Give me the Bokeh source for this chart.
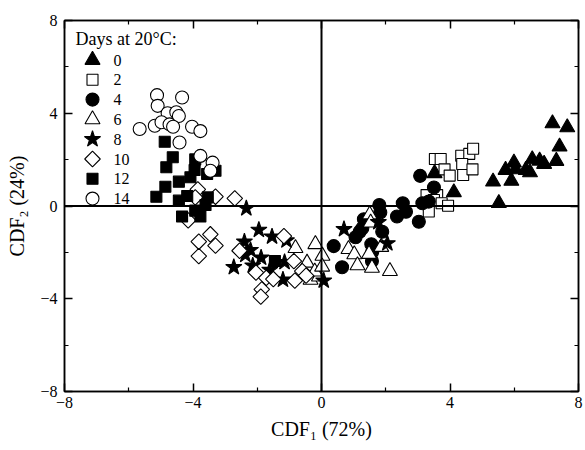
import math
from bokeh.plotting import figure
from bokeh.models import Span, Label, LinearAxis, FixedTicker, Range1d
from bokeh.embed import file_html
from bokeh.resources import INLINE

legend_title = "Days at 20°C:"
day_labels = ["0", "2", "4", "6", "8", "10", "12", "14"]
x_ticks = [-8, -4, 0, 4, 8]
minor_ticks = [-6, -2, 2, 6]

d0_x = [7.19, 7.65, 7.41, 7.31, 6.56, 6.79, 6.93, 5.99, 5.73, 6.04, 6.36, 6.49, 5.34, 5.91, 5.52, 4.12, 3.52]
d0_y = [3.56, 3.39, 2.56, 1.94, 2.01, 1.95, 1.81, 1.87, 1.55, 1.58, 1.55, 1.45, 1.05, 1.08, 0.12, 0.59, 1.41]

d2_x = [3.53, 3.71, 3.83, 3.99, 4.35, 4.60, 4.72, 4.38, 4.41, 4.70, 3.27, 3.60, 3.50, 3.74, 3.94, 3.34]
d2_y = [2.03, 2.03, 1.58, 1.31, 2.17, 2.25, 2.47, 1.81, 1.34, 1.58, 0.47, 0.47, 0.26, 0.12, 0.01, -0.24]

d4_x = [3.07, 3.50, 1.80, 1.83, 2.53, 2.63, 2.35, 3.03, 3.14, 3.34, 1.32, 1.58, 1.27, 1.89, 1.19, 1.06, 1.55, 1.58, 0.38, 0.64, 1.57]
d4_y = [1.30, 0.80, 0.04, -0.28, 0.12, -0.25, -0.45, -0.68, 0.12, 0.19, -0.57, -0.60, -0.96, -1.11, -1.11, -1.35, -1.65, -1.97, -1.73, -2.64, -2.37]

d6_x = [1.50, 1.53, -0.19, 0.84, 1.02, 1.48, 1.86, 1.12, 1.57, 2.13, 0.03, -0.81, -0.45, -0.34, -0.08, -0.21, 0.02]
d6_y = [-0.37, -0.72, -1.65, -1.86, -2.09, -2.07, -1.77, -2.56, -2.67, -2.81, -2.15, -1.82, -2.45, -3.19, -3.05, -2.83, -2.62]

d8_x = [-2.34, -1.95, -1.54, -1.09, -2.40, -2.21, -2.37, -1.88, -2.73, -2.14, -1.61, -1.15, -1.20, 0.07, 0.70, 1.77, 2.05]
d8_y = [-0.10, -1.03, -1.32, -1.49, -1.54, -1.90, -2.11, -2.23, -2.64, -2.57, -2.76, -2.42, -3.18, -3.22, -1.00, -0.70, -1.61]

d10_x = [-3.85, -3.30, -2.70, -3.93, -4.15, -3.46, -3.82, -3.30, -3.82, -2.55, -1.17, -0.86, -2.04, -1.72, -1.50, -1.86, -1.89, -0.83, -0.60, -0.48]
d10_y = [0.72, 0.40, 0.33, 0.37, -0.62, -1.22, -1.54, -1.71, -2.16, -1.93, -1.30, -2.38, -2.87, -3.10, -3.15, -3.60, -3.91, -3.22, -2.81, -3.00]

d12_x = [-4.88, -4.63, -4.83, -3.93, -3.95, -4.08, -3.56, -3.30, -4.44, -4.86, -5.14, -4.44, -4.18, -3.54, -3.61, -3.93, -4.34, -3.77, -1.45]
d12_y = [2.77, 2.10, 1.67, 2.01, 1.55, 1.24, 1.38, 1.52, 1.05, 0.83, 0.40, 0.23, 0.43, 0.37, 0.04, -0.20, -0.45, -0.45, -2.37]

d14_x = [-5.12, -4.34, -5.10, -4.79, -4.52, -4.44, -5.66, -5.19, -4.98, -4.73, -4.62, -4.03, -3.77, -4.42, -3.77, -3.39, -3.46]
d14_y = [4.78, 4.68, 4.32, 4.00, 4.04, 3.88, 3.32, 3.46, 3.61, 3.52, 3.42, 3.42, 3.23, 2.74, 2.16, 1.87, 1.52]

FONT = "Liberation Serif"

# layout (pixels)
W, H = 585, 450
BL, BR, BT, BB = 64, 7, 20, 59
FRAME_W = W - BL - BR
FRAME_H = H - BT - BB

p = figure(width=W, height=H, output_backend="svg", toolbar_location=None,
           x_range=Range1d(-8, 8), y_range=Range1d(-8, 8),
           min_border_left=BL, min_border_right=BR, min_border_top=BT, min_border_bottom=BB,
           x_axis_label="CDF\u2081 (72%)", y_axis_label="CDF\u2082 (24%)")
p.grid.visible = False
p.outline_line_color = "black"
p.outline_line_width = 1.5
p.background_fill_color = "white"
p.border_fill_color = "white"

# pixel-based helper ranges for the key (origin at the frame's top-left)
p.extra_x_ranges = {"lx": Range1d(0, FRAME_W)}
p.extra_y_ranges = {"ly": Range1d(FRAME_H, 0)}


def style_axis(ax, show_labels=True):
    ax.ticker = FixedTicker(ticks=x_ticks, minor_ticks=minor_ticks)
    ax.major_tick_in = 8
    ax.major_tick_out = 0
    ax.minor_tick_in = 4
    ax.minor_tick_out = 0
    ax.axis_line_width = 1.5
    ax.major_tick_line_width = 1.5
    ax.minor_tick_line_width = 1.2
    ax.axis_line_color = "black"
    ax.major_tick_line_color = "black"
    ax.minor_tick_line_color = "black"
    ax.major_label_text_font = FONT
    ax.major_label_text_color = "black"
    ax.major_label_text_font_size = "16px"
    if not show_labels:
        ax.major_label_overrides = {t: "" for t in x_ticks}
        ax.major_label_standoff = 0
    ax.axis_label_text_font = FONT
    ax.axis_label_text_font_size = "20px"
    ax.axis_label_text_font_style = "normal"
    ax.axis_label_text_color = "black"


for ax in p.xaxis:
    style_axis(ax)
    ax.major_label_standoff = 5
    ax.axis_label_standoff = 7
for ax in p.yaxis:
    style_axis(ax)
    ax.major_label_standoff = 7
    ax.axis_label_standoff = 9

top = LinearAxis()
style_axis(top, show_labels=False)
p.add_layout(top, "above")
right = LinearAxis()
style_axis(right, show_labels=False)
p.add_layout(right, "right")

p.add_layout(Span(location=0, dimension="height", line_color="black", line_width=2))
p.add_layout(Span(location=0, dimension="width", line_color="black", line_width=2))

series = [
    (d0_x, d0_y, "triangle", 15, "black", 0.0),
    (d2_x, d2_y, "square", 11, "white", 0.0),
    (d4_x, d4_y, "circle", 13, "black", 0.0),
    (d6_x, d6_y, "triangle", 15, "white", 0.0),
    (d8_x, d8_y, "star", 17, "black", 0.0),
    (d10_x, d10_y, "square", 11, "white", math.pi / 4),
    (d12_x, d12_y, "square", 11, "black", 0.0),
    (d14_x, d14_y, "circle", 13, "white", 0.0),
]

# key geometry (pixels from the frame's top-left)
KEY_TITLE_X, KEY_TITLE_Y = 11, 18
KEY_MARK_X, KEY_LABEL_X = 28, 49
KEY_ROW0, KEY_PITCH = 39.5, 19.8

for i, ((xs, ys, marker, size, fill, ang), lab) in enumerate(zip(series, day_labels)):
    style = dict(marker=marker, size=size, fill_color=fill, line_color="black",
                 line_width=1.1, angle=ang)
    p.scatter(xs, ys, **style)
    ry = KEY_ROW0 + i * KEY_PITCH
    p.scatter([KEY_MARK_X], [ry], x_range_name="lx", y_range_name="ly", **style)
    p.add_layout(Label(x=KEY_LABEL_X, y=ry, x_range_name="lx", y_range_name="ly",
                       text=lab, text_baseline="middle", text_align="left",
                       text_font=FONT, text_font_size="16px", text_color="black"))

p.add_layout(Label(x=KEY_TITLE_X, y=KEY_TITLE_Y, x_range_name="lx", y_range_name="ly",
                   text=legend_title, text_baseline="middle", text_align="left",
                   text_font=FONT, text_font_size="18px", text_color="black"))

open("out.html", "w").write(file_html(p, INLINE))
